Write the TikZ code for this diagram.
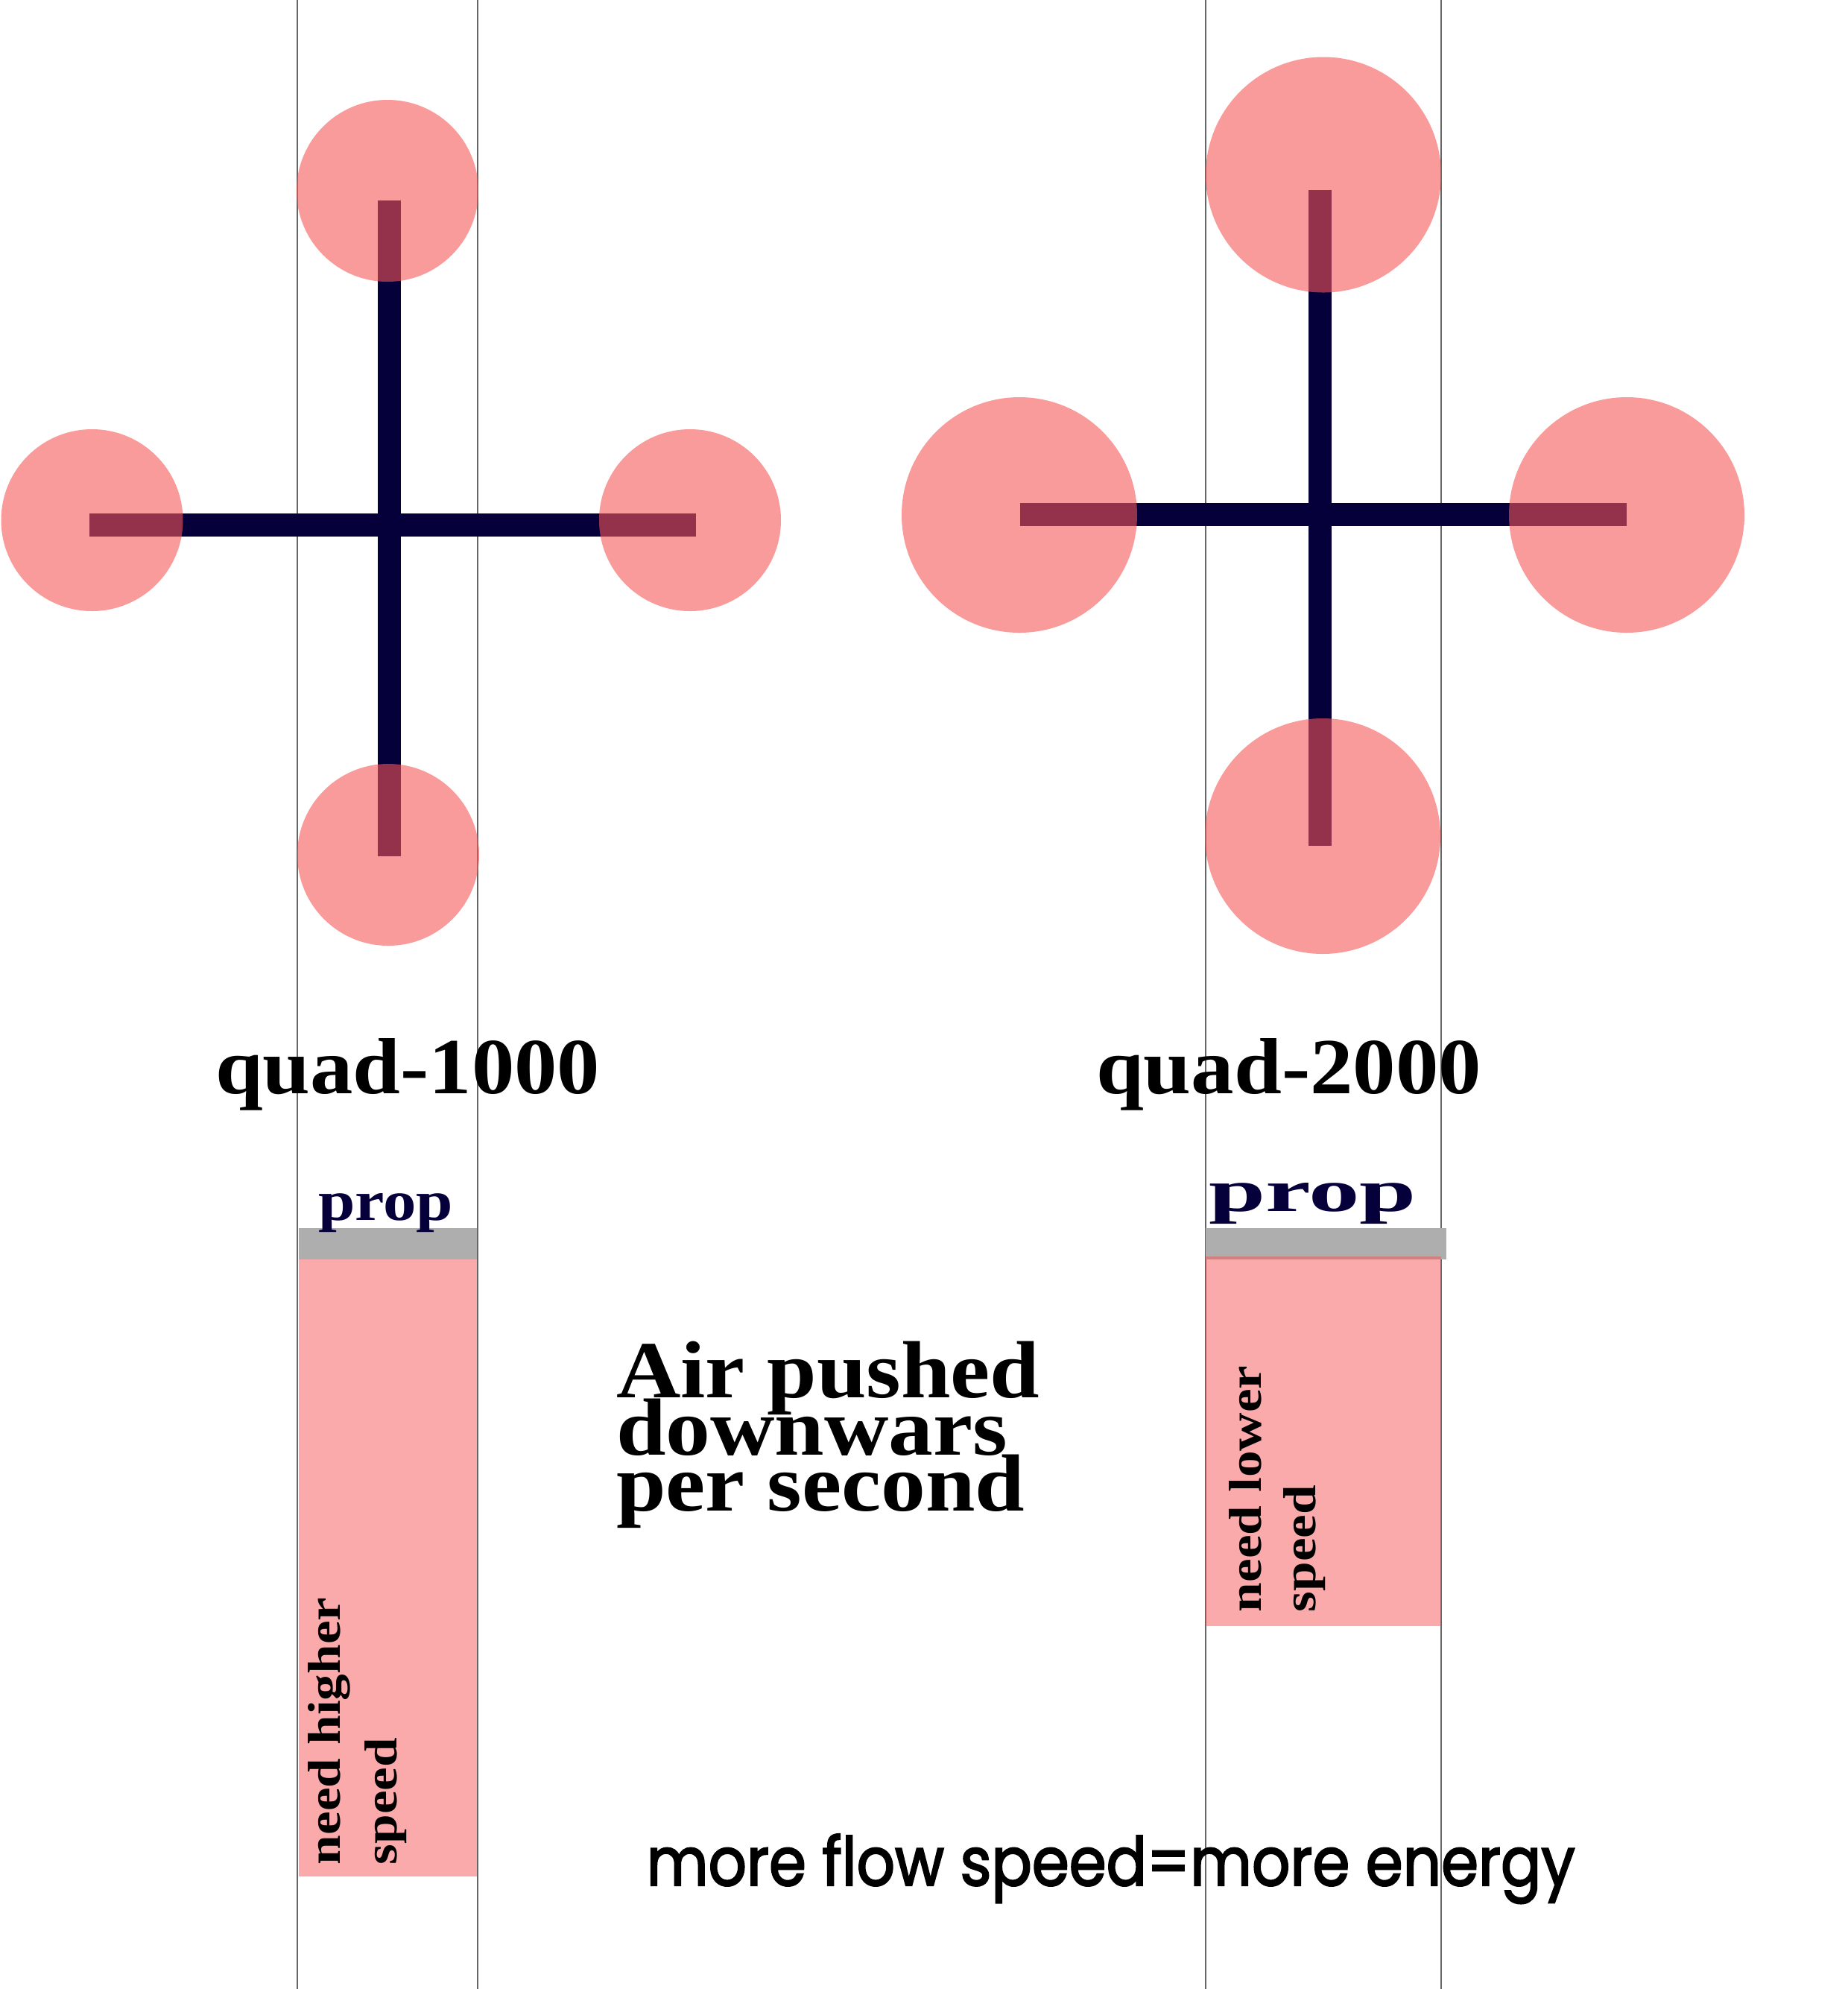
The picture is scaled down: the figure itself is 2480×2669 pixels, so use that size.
\documentclass[tikz,border=0pt]{standalone}
\usepackage{fontspec}
\usepackage{graphicx}
\setmainfont{Liberation Serif}
\newfontfamily\flowfont{Poppins}[FakeBold=2.5]
\definecolor{armc}{RGB}{5,0,58}
\definecolor{padc}{RGB}{247,86,86}
\definecolor{barc}{RGB}{174,174,174}
\begin{document}
\begin{tikzpicture}[x=0.1mm,y=-0.1mm,
  guide/.style={draw=black!60, line width=0.13mm},
  arm/.style={fill=armc, draw=none},
  rotor/.style={fill=padc, fill opacity=0.59, draw=none},
  flowbox/.style={fill=padc, fill opacity=0.5, draw=none},
  propbar/.style={fill=barc, draw=none},
  txt/.style={inner sep=0pt, outer sep=0pt, anchor=base west, font=\bfseries},
  airtxt/.style={txt, font=\fontsize{30.95pt}{31pt}\selectfont\bfseries},
  sidetxt/.style={txt, rotate=90, font=\fontsize{17.64pt}{18pt}\selectfont\bfseries}]
\useasboundingbox[fill=white] (0,0) rectangle (2480,2669);

% guide lines
\draw[guide] (399,0) -- (399,2669);
\draw[guide] (641,0) -- (641,2669);
\draw[guide] (1618,0) -- (1618,2669);
\draw[guide] (1934,0) -- (1934,2669);

% quad-1000 frame
\fill[arm] (507,269) rectangle (538,1149);
\fill[arm] (120,689) rectangle (934,720);
\fill[rotor] (520,256) circle[radius=122];
\fill[rotor] (123.5,698) circle[radius=122];
\fill[rotor] (926,698) circle[radius=122];
\fill[rotor] (521,1147) circle[radius=122];

% quad-2000 frame
\fill[arm] (1756,255) rectangle (1787,1135);
\fill[arm] (1369,675) rectangle (2183,706);
\fill[rotor] (1776,234.5) circle[radius=158];
\fill[rotor] (1368,691) circle[radius=158];
\fill[rotor] (2183,691) circle[radius=158];
\fill[rotor] (1775,1122) circle[radius=158];

% titles
\node[txt] (q1) at (289,1467) {\resizebox{51.6mm}{7.4mm}{quad-1000}};
\node[txt] (q2) at (1471,1467) {\resizebox{51.7mm}{7.4mm}{quad-2000}};

% prop bars
\fill[propbar] (401,1648) rectangle (640,1690);
\fill[propbar] (1618,1648) rectangle (1941,1690);
\node[txt, text=armc] (p1) at (427,1637) {\resizebox{18.1mm}{3.6mm}{prop}};
\node[txt, text=armc] (p2) at (1622,1625) {\resizebox{27.9mm}{3.8mm}{prop}};

% air columns
\fill[flowbox] (401,1690) rectangle (640,2518);
\fill[flowbox] (1618,1686) rectangle (1934,2182);

% side texts
\node[sidetxt] (h1) at (456,2502) {\scalebox{1.15}[1]{need higher}};
\node[sidetxt] (h2) at (532,2502) {\scalebox{1.15}[1]{speed}};
\node[sidetxt] (l1) at (1692,2163) {\scalebox{1.15}[1]{need lower}};
\node[sidetxt] (l2) at (1765,2163) {\scalebox{1.15}[1]{speed}};

% centre text
\node[airtxt] (a1) at (827,1875) {\scalebox{1.10}[1]{Air pushed}};
\node[airtxt] (a2) at (827,1952) {\scalebox{1.10}[1]{downwars}};
\node[airtxt] (a3) at (827,2027) {\scalebox{1.10}[1]{per second}};

% bottom text
\node[inner sep=0pt, anchor=base west] (flow) at (867,2530)
  {\flowfont\resizebox{124.6mm}{6.9mm}{more flow speed=more energy}};
\end{tikzpicture}
\end{document}
